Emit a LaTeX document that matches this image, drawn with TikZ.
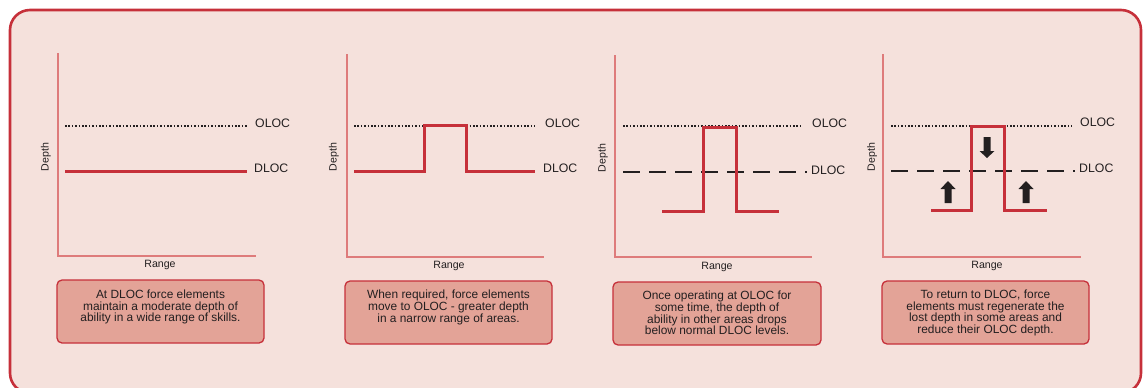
\documentclass[tikz,border=0pt]{standalone}
\usepackage{fontspec}
\setmainfont{Liberation Sans}
\definecolor{bgpink}{HTML}{F5E1DC}
\definecolor{borderred}{HTML}{C6303A}
\definecolor{boxfill}{HTML}{E3A397}
\definecolor{axisred}{HTML}{DE7B7B}
\definecolor{txt}{HTML}{231F20}
\tikzset{
  outerbox/.style={draw=borderred, line width=2.6pt, fill=bgpink, rounded corners=20pt},
  axisline/.style={draw=axisred, line width=1.3pt},
  olocline/.style={draw=txt, line width=1.5pt, dash pattern=on 1.5pt off 1.9pt},
  dlocdash/.style={draw=txt, line width=1.3pt, dash pattern=on 17pt off 9pt},
  redline/.style={draw=borderred, line width=3pt, line join=miter},
  lvl/.style={font=\fontsize{12.3}{13}\selectfont, text=txt, anchor=west, inner sep=0pt},
  axlab/.style={font=\fontsize{10.6}{11}\selectfont, text=txt, inner sep=0pt},
  note/.style={draw=borderred, line width=1.3pt, fill=boxfill, rounded corners=5pt,
    font=\fontsize{11.9}{11.7}\selectfont, text=txt, align=center, inner sep=0pt},
  blk/.style={fill=txt, draw=none}
}
\begin{document}
\begin{tikzpicture}[x=1pt,y=-1pt]
\useasboundingbox (0,0) rectangle (1143,388);
\clip (0,0) rectangle (1143,388);
\path[outerbox] (10,10) rectangle (1141,393);

% ---------- Panel 1 ----------
\draw[axisline] (58,53) -- (58,256) -- (256,256);
\node[axlab, rotate=90] (d1) at (46,157) {Depth};
\node[axlab] (r1) at (160,265) {Range};
\draw[olocline] (65,126) -- (247,126);
\draw[redline] (65,171) -- (247,171);
\node[lvl] (o1) at (255,123) {OLOC};
\node[lvl] (l1) at (254,168) {DLOC};
\path[note] (57,280) rectangle (264,343);
\node[note, draw=none, fill=none] (n1) at (160.5,307) {At DLOC force elements\\maintain a moderate depth of\\ability in a wide range of skills.};

% ---------- Panel 2 ----------
\draw[axisline] (347,54) -- (347,257) -- (544,257);
\node[axlab, rotate=90] (d2) at (334,157) {Depth};
\node[axlab] (r2) at (449,266) {Range};
\draw[olocline] (354,126) -- (535,126);
\draw[redline] (354,171) -- (424,171) -- (424,125) -- (466,125) -- (466,171) -- (535,171);
\node[lvl] (o2) at (545,123) {OLOC};
\node[lvl] (l2) at (543,168) {DLOC};
\path[note] (345,281) rectangle (552,344);
\node[note, draw=none, fill=none] (n2) at (448.5,307.5) {When required, force elements\\move to OLOC - greater depth\\in a narrow range of areas.};

% ---------- Panel 3 ----------
\draw[axisline] (615,55) -- (615,257) -- (812,257);
\node[axlab, rotate=90] (d3) at (603,158) {Depth};
\node[axlab] (r3) at (717,267) {Range};
\draw[olocline] (623,126) -- (803,126);
\draw[dlocdash] (623,172) -- (807,172);
\draw[redline] (662,211) -- (703,211) -- (703,127) -- (736,127) -- (736,211) -- (779,211);
\node[lvl] (o3) at (812,123) {OLOC};
\node[lvl] (l3) at (811,170) {DLOC};
\path[note] (613,282) rectangle (821,345);
\node[note, draw=none, fill=none] (n3) at (717,313) {Once operating at OLOC for\\some time, the depth of\\ability in other areas drops\\below normal DLOC levels.};

% ---------- Panel 4 ----------
\draw[axisline] (883,54) -- (883,257) -- (1081,257);
\node[axlab, rotate=90] (d4) at (872,157) {Depth};
\node[axlab] (r4) at (987,266) {Range};
\draw[olocline] (891,126) -- (1072,126);
\draw[dlocdash] (891,171) -- (1075,171);
\draw[redline] (931,210) -- (971,210) -- (971,126) -- (1004,126) -- (1004,210) -- (1047,210);
\node[lvl] (o4) at (1080,122) {OLOC};
\node[lvl] (l4) at (1079,168) {DLOC};
\path[note] (882,281) rectangle (1089,344);
\node[note, draw=none, fill=none] (n4) at (985.5,313) {To return to DLOC, force\\elements must regenerate the\\lost depth in some areas and\\reduce their OLOC depth.};
% block arrows
\fill[blk] (983.5,137) -- (990.5,137) -- (990.5,151) -- (994.5,151) -- (987,158) -- (979.5,151) -- (983.5,151) -- cycle;
\fill[blk] (944.5,203) -- (951.5,203) -- (951.5,189) -- (955.5,189) -- (948,181) -- (940.5,189) -- (944.5,189) -- cycle;
\fill[blk] (1022.5,203) -- (1029.5,203) -- (1029.5,189) -- (1033.5,189) -- (1026,181) -- (1018.5,189) -- (1022.5,189) -- cycle;
\end{tikzpicture}
\end{document}
